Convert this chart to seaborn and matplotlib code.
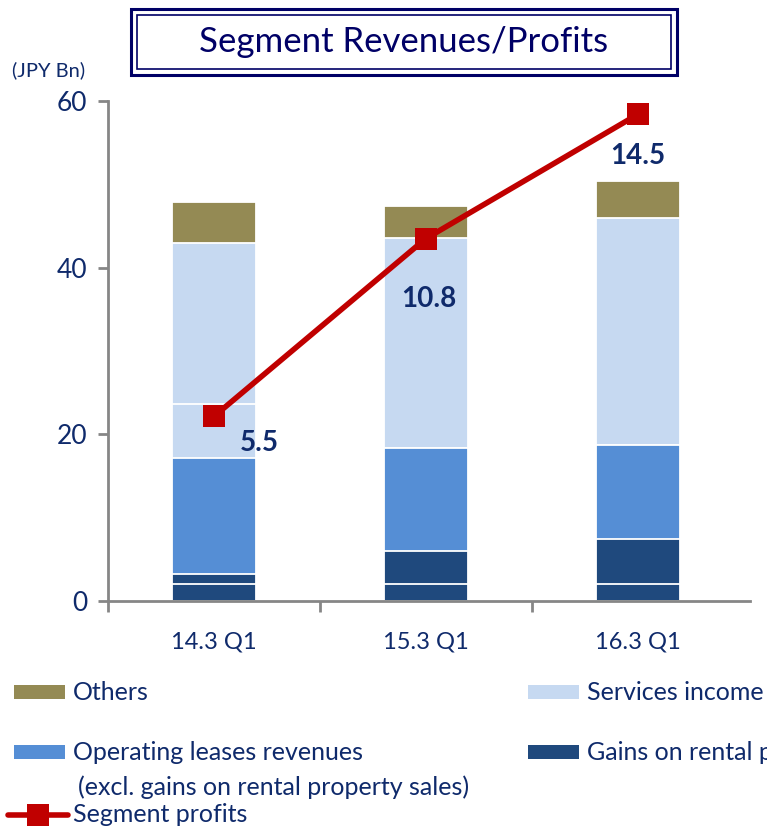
import matplotlib
matplotlib.use("Agg")
from matplotlib import pyplot as plt
from matplotlib.patches import Rectangle
from matplotlib.lines import Line2D
import pandas as pd
import seaborn as sns

# data (JPY Bn)
categories = ["14.3 Q1", "15.3 Q1", "16.3 Q1"]
gains_low = [2.0, 2.0, 2.0]
gains_high = [1.2, 4.0, 5.4]
operating = [14.0, 12.4, 11.3]
services_low = [6.4, 0.0, 0.0]
services_high = [19.4, 25.2, 27.3]
others = [4.9, 3.8, 4.4]
profits = [5.5, 10.8, 14.5]

c_others = "#948A54"
c_services = "#C6D9F1"
c_operating = "#558ED5"
c_gains = "#1F497D"
c_profit = "#C00000"
navy = "#0F2A6B"

sns.set_theme(style="white")
plt.rcParams["font.family"] = ["Lato", "DejaVu Sans"]

fig = plt.figure(figsize=(7.67, 8.26), dpi=100)
ax = fig.add_axes([108 / 767, 1 - 601 / 826, 642 / 767, 500 / 826])

# stacked bars: draw cumulative totals from the top layer down
layers = [
    (gains_low, c_gains),
    (gains_high, c_gains),
    (operating, c_operating),
    (services_low, c_services),
    (services_high, c_services),
    (others, c_others),
]
totals = []
running = [0.0] * len(categories)
for vals, col in layers:
    running = [r + v for r, v in zip(running, vals)]
    totals.append((list(running), col))

for cum, col in reversed(totals):
    df = pd.DataFrame({"cat": categories, "val": cum})
    sns.barplot(data=df, x="cat", y="val", color=col, width=0.395,
                edgecolor="white", linewidth=1.3, saturation=1, ax=ax)

ax.set_xlim(-0.5, 2.53)
ax.set_ylim(0, 60)
ax.set_yticks([0, 20, 40, 60])
ax.set_xlabel("")
ax.set_ylabel("")
ax.set_xticks([0, 1, 2])
ax.set_xticklabels(categories)
ax.set_xticks([-0.5, 0.5, 1.5], minor=True)
ax.tick_params(axis="x", which="major", length=0, pad=22, labelsize=17, labelcolor=navy)
ax.tick_params(axis="x", which="minor", length=8, width=2, color="#868686", direction="out", bottom=True)
ax.tick_params(axis="y", length=7, width=2, color="#868686", direction="out", left=True,
               pad=8, labelsize=19, labelcolor=navy)
for s in ["top", "right"]:
    ax.spines[s].set_visible(False)
for s in ["left", "bottom"]:
    ax.spines[s].set_color("#868686")
    ax.spines[s].set_linewidth(2)

# segment profits on a hidden secondary scale
ax2 = ax.twinx()
sns.lineplot(x=[0, 1, 2], y=profits, ax=ax2, color=c_profit, linewidth=4,
             marker="s", markersize=16, markeredgewidth=0)
ax2.set_ylim(0, 14.9)
ax2.set_xlim(-0.5, 2.53)
ax2.axis("off")
offsets = [(45, -27), (3, -60), (0, -42)]
for i, (p, off) in enumerate(zip(profits, offsets)):
    ax2.annotate(f"{p}", (i, p), xytext=off, textcoords="offset pixels",
                 ha="center", va="center", fontsize=20, fontweight="bold", color=navy)

# title box with double border
fig.add_artist(Rectangle((131 / 767, 1 - 75 / 826), 546 / 767, 66 / 826,
                         transform=fig.transFigure, fill=False, edgecolor="#000066", linewidth=2.2))
fig.add_artist(Rectangle((137 / 767, 1 - 69 / 826), 534 / 767, 54 / 826,
                         transform=fig.transFigure, fill=False, edgecolor="#000066", linewidth=1.2))
fig.text(404 / 767, 1 - 42 / 826, "Segment Revenues/Profits", ha="center", va="center",
         fontsize=25, color="#000066")
fig.text(12 / 767, 1 - 70 / 826, "(JPY Bn)", ha="left", va="center", fontsize=14.5, color=navy)

# legend
def patch(x, y, col):
    fig.add_artist(Rectangle((x / 767, 1 - (y + 7) / 826), 51 / 767, 14 / 826,
                             transform=fig.transFigure, facecolor=col, edgecolor="none"))

def label(x, y, s):
    fig.text(x / 767, 1 - y / 826, s, ha="left", va="center", fontsize=18, color=navy)

patch(14, 692, c_others)
label(73, 692, "Others")
patch(528, 692, c_services)
label(587, 692, "Services income")
patch(14, 752, c_operating)
label(73, 752, "Operating leases revenues")
label(78, 787, "(excl. gains on rental property sales)")
patch(528, 752, c_gains)
label(587, 752, "Gains on rental property sales")
fig.add_artist(Line2D([8 / 767, 68 / 767], [1 - 815 / 826, 1 - 815 / 826], transform=fig.transFigure,
                      color=c_profit, linewidth=4))
fig.add_artist(Line2D([38 / 767], [1 - 815 / 826], transform=fig.transFigure,
                      color=c_profit, marker="s", markersize=16, markeredgewidth=0))
label(73, 815, "Segment profits")

fig.savefig("out.png", dpi=100)
